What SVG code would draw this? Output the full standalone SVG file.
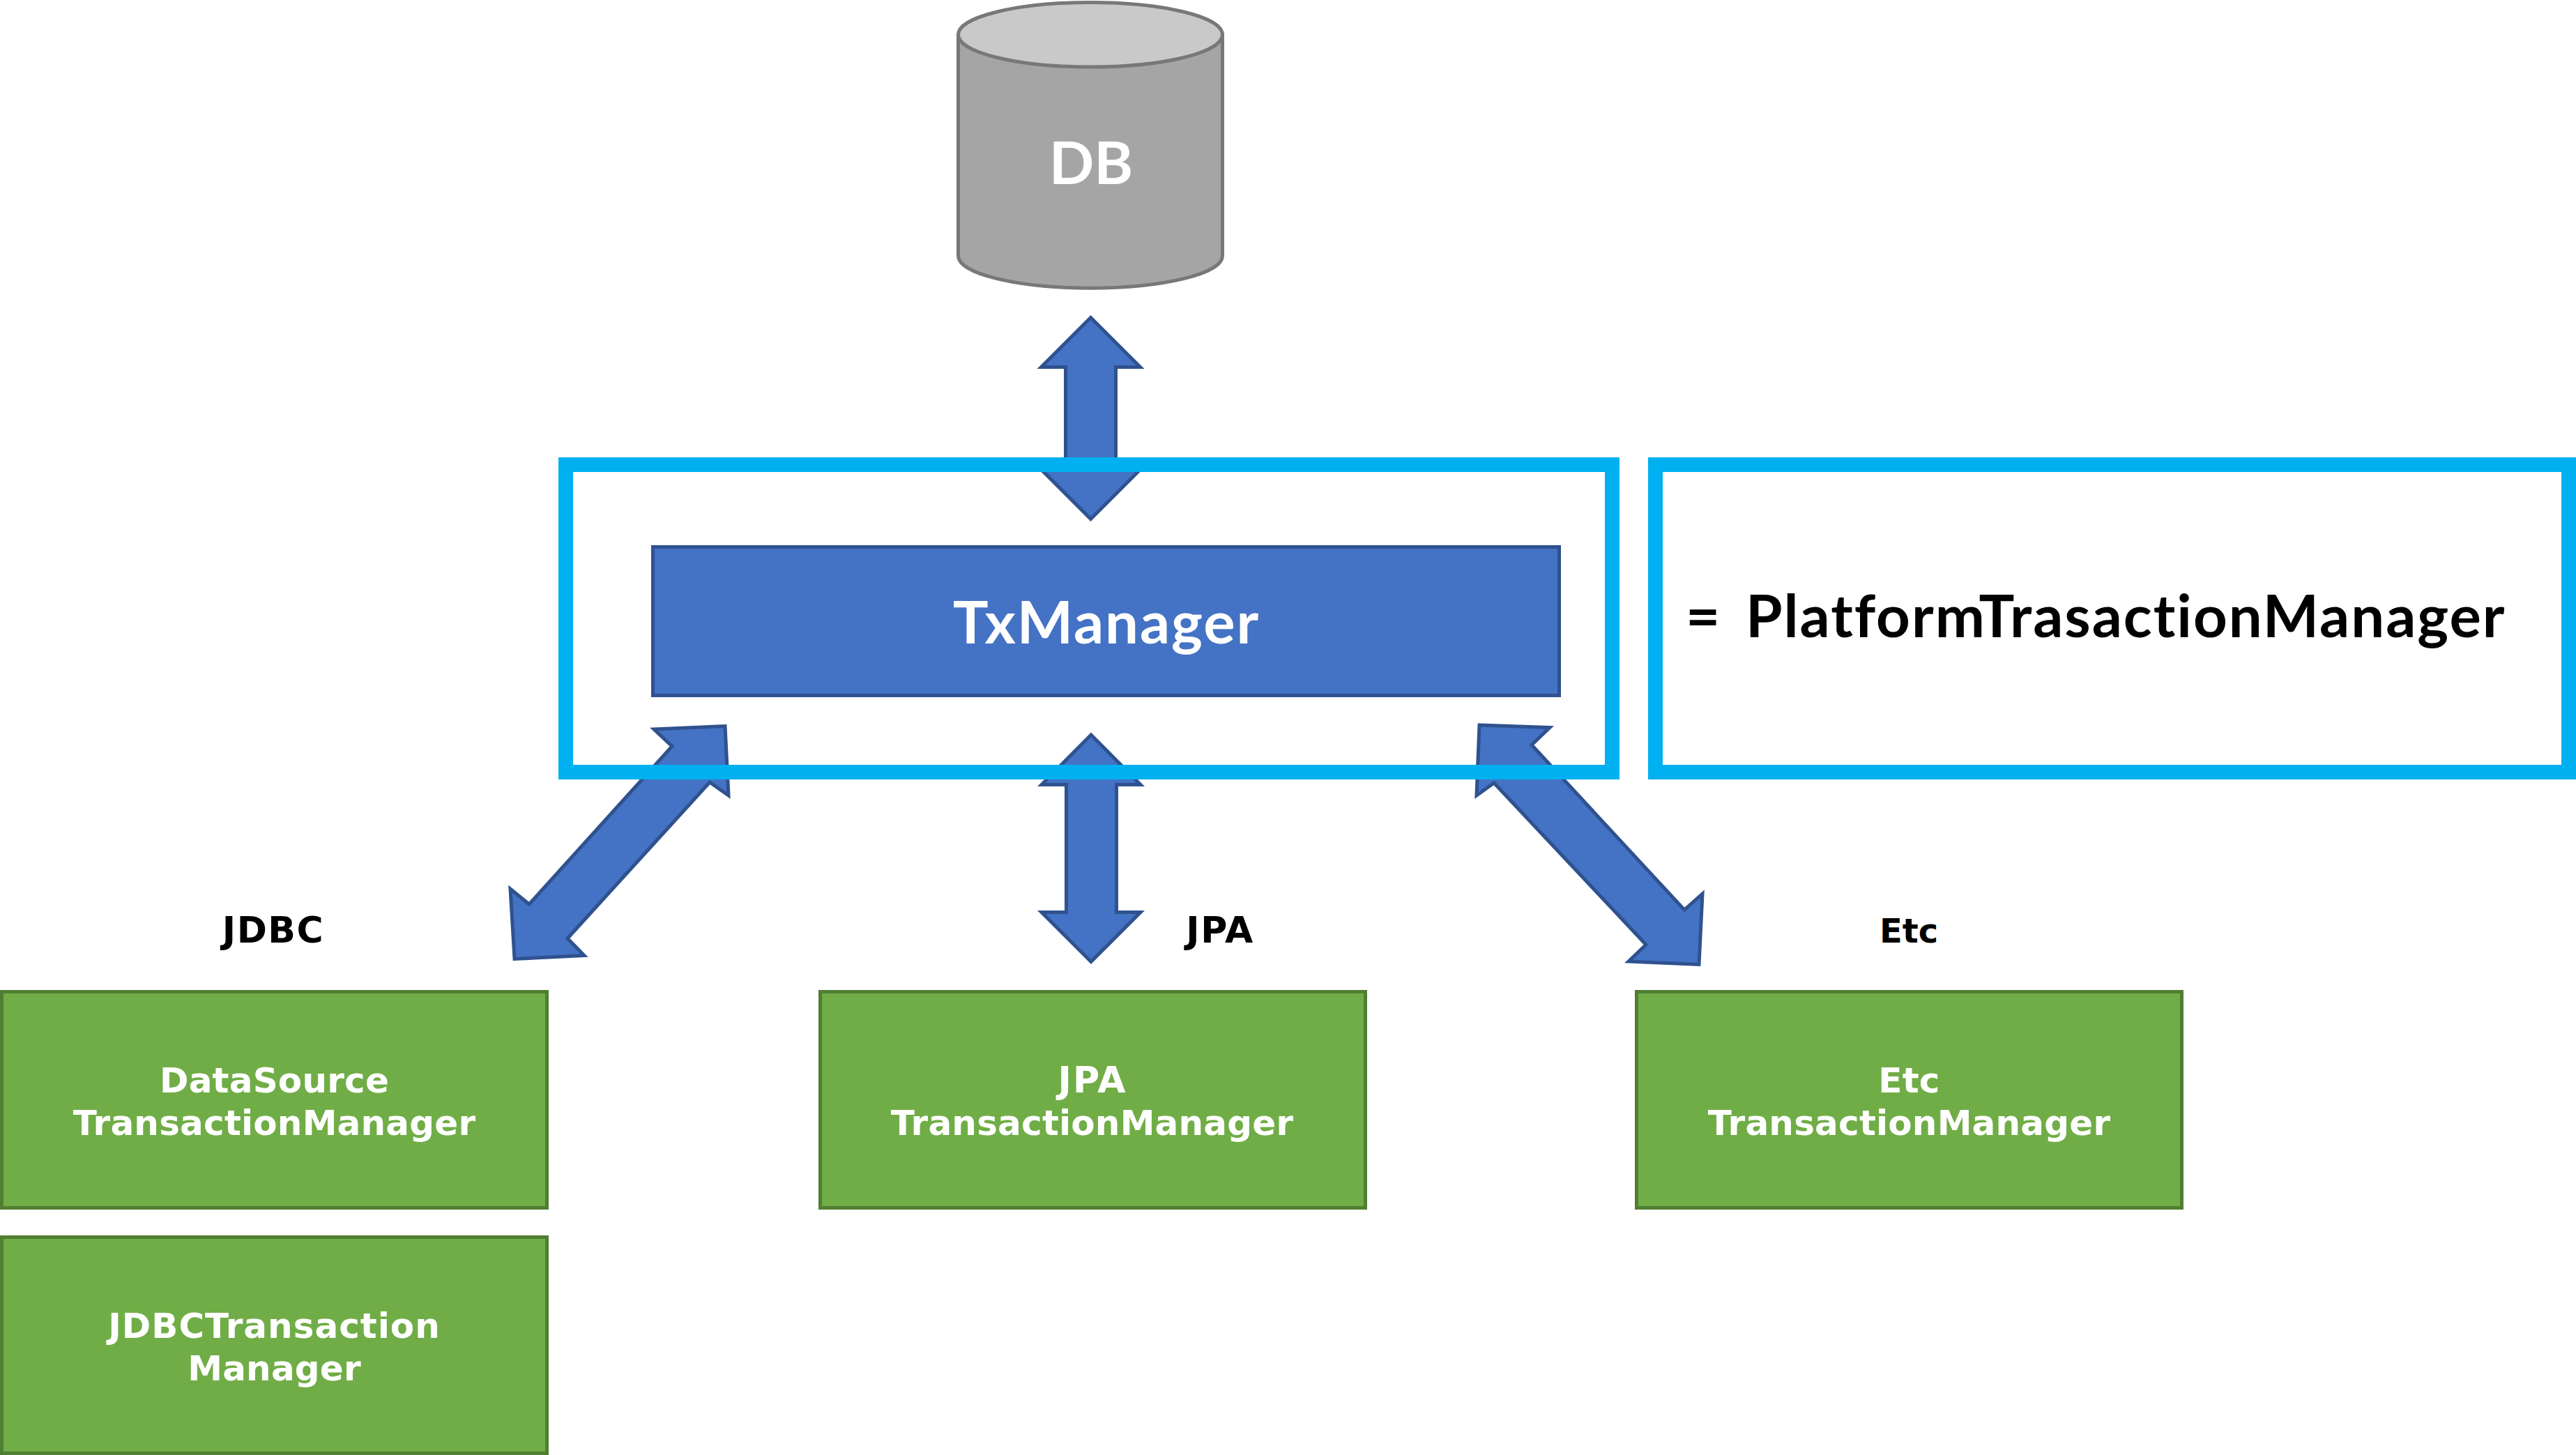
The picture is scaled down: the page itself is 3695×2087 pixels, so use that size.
<svg xmlns="http://www.w3.org/2000/svg" width="3695" height="2087" viewBox="0 0 3695 2087">
<style>
.arrow{fill:#4472C4;stroke:#2F528F;stroke-width:5;stroke-linejoin:miter;stroke-miterlimit:10}
.green{fill:#70AD47;stroke:#507E32;stroke-width:5}
.frame{fill:none;stroke:#00B0F0;stroke-width:21}
.mgr{font-family:"DejaVu Sans",Verdana,sans-serif;font-weight:700;font-size:50px;letter-spacing:.2px;fill:#fff;text-anchor:middle}
.lbl{font-family:"DejaVu Sans",Verdana,sans-serif;font-weight:700;font-size:52px;letter-spacing:1.5px;fill:#000;text-anchor:middle}
.big{font-family:"Lato","Noto Sans",sans-serif;font-weight:700;font-size:85px;letter-spacing:2px}
</style>
<rect width="3695" height="2087" fill="#fff"/>
<g id="connectors">
<polygon class="arrow" points="1564.5,455.5 1635.5,526.5 1600.5,526.5 1600.5,673.5 1635.5,673.5 1564.5,744.5 1493.5,673.5 1528.5,673.5 1528.5,526.5 1493.5,526.5"/>
<polygon class="arrow" points="1565,1054 1636,1125.5 1601.5,1125.5 1601.5,1308.5 1636,1308.5 1565,1379.5 1494,1308.5 1529.5,1308.5 1529.5,1125.5 1494,1125.5"/>
<polygon class="arrow" points="1040,1041.5 1045,1141 1018,1122 814,1346 838,1370.5 738,1375.5 732,1275 759,1297 964,1070.5 938,1046"/>
<polygon class="arrow" points="2122,1040 2223,1043.5 2197,1068.5 2416,1305 2442,1282 2437,1383.5 2336,1379 2361,1355 2143,1123 2118,1141"/>
</g>
<g id="db">
<path d="M1374.5 49.75V367C1374.5 392.5 1459 413.2 1564 413.2S1753.5 392.5 1753.5 367V49.75Z" fill="#A5A5A5" stroke="#787878" stroke-width="5"/>
<ellipse cx="1564" cy="49.75" rx="189.5" ry="46.25" fill="#C9C9C9" stroke="#787878" stroke-width="5"/>
<text class="big" x="1565" y="263.5" fill="#fff" text-anchor="middle" style="letter-spacing:0">DB</text>
</g>
<g id="txframe"><rect class="frame" x="811.5" y="666.5" width="1501" height="441"/></g>
<g id="txmanager">
<rect x="936.5" y="784.5" width="1300" height="213" fill="#4472C4" stroke="#2F528F" stroke-width="5"/>
<text class="big" x="1587" y="923" fill="#fff" text-anchor="middle">TxManager</text>
</g>
<g id="platform">
<rect class="frame" x="2374.5" y="666.5" width="1310" height="441"/>
<text class="big" y="914" fill="#000"><tspan x="2418">=</tspan> <tspan x="2504">PlatformTrasactionManager</tspan></text>
</g>
<g id="datasource">
<rect class="green" x="2.5" y="1422.5" width="782" height="310"/>
<text class="mgr" x="393.5" y="1567">DataSource</text>
<text class="mgr" x="393.5" y="1628">TransactionManager</text>
</g>
<g id="jdbc">
<rect class="green" x="2.5" y="1774.5" width="782" height="310"/>
<text class="mgr" x="393.5" y="1919" style="letter-spacing:1px">JDBCTransaction</text>
<text class="mgr" x="393.5" y="1980">Manager</text>
</g>
<g id="jpa">
<rect class="green" x="1176.5" y="1422.5" width="782" height="310"/>
<text class="mgr" x="1567" y="1567" style="font-size:52px;letter-spacing:2px">JPA</text>
<text class="mgr" x="1566.5" y="1628">TransactionManager</text>
</g>
<g id="etc">
<rect class="green" x="2347.5" y="1422.5" width="782" height="310"/>
<text class="mgr" x="2738.5" y="1567">Etc</text>
<text class="mgr" x="2738.5" y="1628">TransactionManager</text>
</g>
<g id="labels">
<text class="lbl" x="392" y="1352">JDBC</text>
<text class="lbl" x="1750" y="1352">JPA</text>
<text class="lbl" x="2738" y="1352" style="font-size:48px;letter-spacing:0">Etc</text>
</g>
</svg>
